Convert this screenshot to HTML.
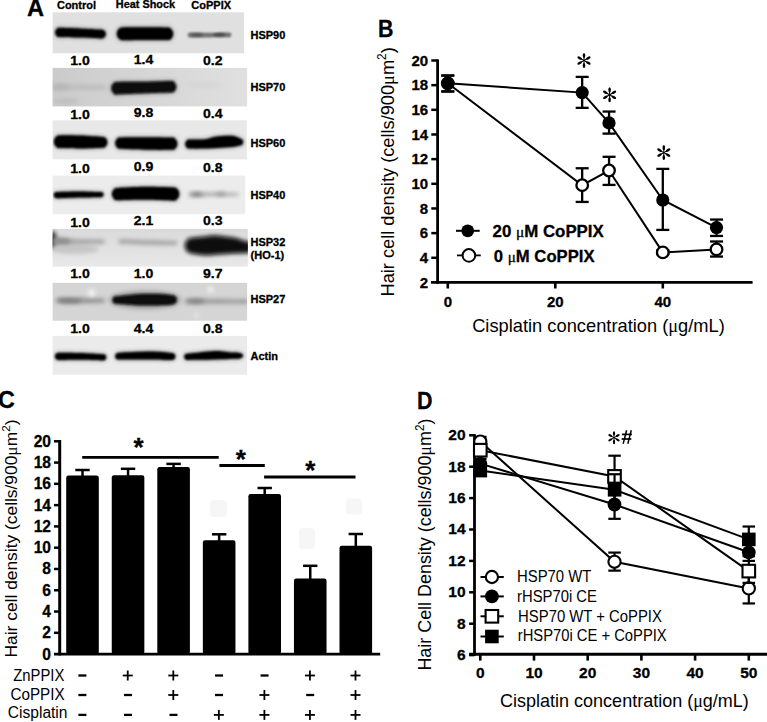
<!DOCTYPE html>
<html><head><meta charset="utf-8"><style>
html,body{margin:0;padding:0;background:#fff;}
svg{display:block;}
text[font-weight=bold]{stroke:#000;stroke-width:0.3px;}
</style></head><body>
<svg width="767" height="722" viewBox="0 0 767 722">
<rect width="767" height="722" fill="#fff"/>
<defs><filter id="bl" x="-20%" y="-100%" width="140%" height="300%"><feGaussianBlur stdDeviation="1.5"/></filter><filter id="bl3" x="-50%" y="-100%" width="200%" height="300%"><feGaussianBlur stdDeviation="3"/></filter></defs>
<text id="m_A" x="27.12" y="16.30" font-family="Liberation Sans" font-size="23.5" font-weight="bold" textLength="17.08" lengthAdjust="spacingAndGlyphs">A</text>
<text id="m_ctl" x="56.97" y="8.60" font-family="Liberation Sans" font-size="10.7" font-weight="bold" textLength="39.06" lengthAdjust="spacingAndGlyphs">Control</text>
<text id="m_hs" x="115.87" y="7.60" font-family="Liberation Sans" font-size="10.7" font-weight="bold" textLength="59.16" lengthAdjust="spacingAndGlyphs">Heat Shock</text>
<text id="m_cop" x="191.37" y="8.80" font-family="Liberation Sans" font-size="10.7" font-weight="bold" textLength="39.66" lengthAdjust="spacingAndGlyphs">CoPPIX</text>
<defs><filter id="bh" x="-30%" y="-150%" width="160%" height="400%"><feGaussianBlur stdDeviation="2.6"/></filter><filter id="bc" x="-30%" y="-150%" width="160%" height="400%"><feGaussianBlur stdDeviation="0.9"/></filter><filter id="bc2" x="-30%" y="-150%" width="160%" height="400%"><feGaussianBlur stdDeviation="1.3"/></filter><filter id="bc3" x="-30%" y="-150%" width="160%" height="400%"><feGaussianBlur stdDeviation="2"/></filter><filter id="bs" x="-100%" y="-100%" width="300%" height="300%"><feGaussianBlur stdDeviation="2"/></filter><linearGradient id="g70" x1="0" x2="1" y1="0" y2="0"><stop offset="0" stop-color="#cbcbcb"/><stop offset="0.45" stop-color="#d5d5d5"/><stop offset="1" stop-color="#e0e0e0"/></linearGradient><linearGradient id="g32" x1="0" x2="0" y1="0" y2="1"><stop offset="0" stop-color="#dadada"/><stop offset="1" stop-color="#e8e8e8"/></linearGradient></defs>
<clipPath id="cb0"><rect x="52.6" y="12.3" width="191.5" height="41.0"/></clipPath>
<rect x="52.60" y="12.30" width="191.50" height="41.00" fill="#e0e0e0" />
<g clip-path="url(#cb0)">
<path d="M55.20,32.40 C55.20,31.63 55.41,30.76 55.75,30.10 C56.10,29.44 56.67,28.80 57.27,28.42 C57.87,28.03 55.55,27.79 59.34,27.80 C63.13,27.81 73.22,28.20 80.00,28.50 C86.78,28.80 96.36,29.42 100.00,29.60 C103.64,29.78 101.20,29.50 101.84,29.60 C102.48,29.70 103.25,29.82 103.82,30.19 C104.39,30.56 104.94,31.16 105.27,31.80 C105.60,32.44 105.80,33.27 105.80,34.00 C105.80,34.73 105.60,35.56 105.27,36.20 C104.94,36.84 104.39,37.44 103.82,37.81 C103.25,38.18 102.48,38.30 101.84,38.40 C101.20,38.50 103.64,38.53 100.00,38.40 C96.36,38.27 86.78,37.83 80.00,37.60 C73.22,37.37 63.13,37.20 59.34,37.00 C55.55,36.80 57.87,36.77 57.27,36.38 C56.67,36.00 56.10,35.36 55.75,34.70 C55.41,34.04 55.20,33.17 55.20,32.40Z" fill="#050505" opacity="0.45" filter="url(#bh)"/>
<path d="M55.20,32.40 C55.20,31.63 55.41,30.76 55.75,30.10 C56.10,29.44 56.67,28.80 57.27,28.42 C57.87,28.03 55.55,27.79 59.34,27.80 C63.13,27.81 73.22,28.20 80.00,28.50 C86.78,28.80 96.36,29.42 100.00,29.60 C103.64,29.78 101.20,29.50 101.84,29.60 C102.48,29.70 103.25,29.82 103.82,30.19 C104.39,30.56 104.94,31.16 105.27,31.80 C105.60,32.44 105.80,33.27 105.80,34.00 C105.80,34.73 105.60,35.56 105.27,36.20 C104.94,36.84 104.39,37.44 103.82,37.81 C103.25,38.18 102.48,38.30 101.84,38.40 C101.20,38.50 103.64,38.53 100.00,38.40 C96.36,38.27 86.78,37.83 80.00,37.60 C73.22,37.37 63.13,37.20 59.34,37.00 C55.55,36.80 57.87,36.77 57.27,36.38 C56.67,36.00 56.10,35.36 55.75,34.70 C55.41,34.04 55.20,33.17 55.20,32.40Z" fill="#050505" filter="url(#bc)"/>
<path d="M116.80,33.79 C116.80,32.72 117.09,31.52 117.57,30.59 C118.05,29.67 118.85,28.78 119.68,28.25 C120.51,27.72 118.34,27.55 122.56,27.39 C126.78,27.24 137.49,27.27 145.00,27.30 C152.51,27.33 163.38,27.40 167.62,27.58 C171.85,27.77 169.60,27.90 170.41,28.41 C171.22,28.93 171.99,29.79 172.45,30.69 C172.92,31.58 173.20,32.76 173.20,33.79 C173.20,34.83 172.92,36.00 172.45,36.90 C171.99,37.79 171.22,38.65 170.41,39.17 C169.60,39.69 171.85,39.86 167.62,40.00 C163.38,40.14 152.51,39.97 145.00,40.00 C137.49,40.03 126.78,40.30 122.56,40.19 C118.34,40.08 120.51,39.86 119.68,39.33 C118.85,38.80 118.05,37.91 117.57,36.99 C117.09,36.07 116.80,34.86 116.80,33.79Z" fill="#000" opacity="0.45" filter="url(#bh)"/>
<path d="M116.80,33.79 C116.80,32.72 117.09,31.52 117.57,30.59 C118.05,29.67 118.85,28.78 119.68,28.25 C120.51,27.72 118.34,27.55 122.56,27.39 C126.78,27.24 137.49,27.27 145.00,27.30 C152.51,27.33 163.38,27.40 167.62,27.58 C171.85,27.77 169.60,27.90 170.41,28.41 C171.22,28.93 171.99,29.79 172.45,30.69 C172.92,31.58 173.20,32.76 173.20,33.79 C173.20,34.83 172.92,36.00 172.45,36.90 C171.99,37.79 171.22,38.65 170.41,39.17 C169.60,39.69 171.85,39.86 167.62,40.00 C163.38,40.14 152.51,39.97 145.00,40.00 C137.49,40.03 126.78,40.30 122.56,40.19 C118.34,40.08 120.51,39.86 119.68,39.33 C118.85,38.80 118.05,37.91 117.57,36.99 C117.09,36.07 116.80,34.86 116.80,33.79Z" fill="#000" filter="url(#bc)"/>
<path d="M187.60,35.00 C187.60,34.60 187.71,34.15 187.89,33.80 C188.07,33.45 188.37,33.12 188.68,32.92 C188.99,32.72 189.21,32.65 189.76,32.60 C190.31,32.55 188.63,32.57 192.00,32.60 C195.37,32.63 204.33,32.82 210.00,32.80 C215.67,32.78 222.79,32.55 226.00,32.50 C229.21,32.45 228.52,32.45 229.24,32.50 C229.96,32.55 230.01,32.62 230.32,32.82 C230.63,33.02 230.93,33.35 231.11,33.70 C231.29,34.05 231.40,34.50 231.40,34.90 C231.40,35.30 231.29,35.75 231.11,36.10 C230.93,36.45 230.63,36.78 230.32,36.98 C230.01,37.18 229.96,37.25 229.24,37.30 C228.52,37.35 229.21,37.28 226.00,37.30 C222.79,37.32 215.67,37.38 210.00,37.40 C204.33,37.42 195.37,37.40 192.00,37.40 C188.63,37.40 190.31,37.45 189.76,37.40 C189.21,37.35 188.99,37.28 188.68,37.08 C188.37,36.88 188.07,36.55 187.89,36.20 C187.71,35.85 187.60,35.40 187.60,35.00Z" fill="#707070" filter="url(#bc2)"/>
<ellipse cx="197" cy="35" rx="6" ry="1.6" fill="#555" filter="url(#bc2)"/><ellipse cx="219.5" cy="34.8" rx="6" ry="1.7" fill="#4a4a4a" filter="url(#bc2)"/>
</g>
<text x="250.50" y="39.10" font-family="Liberation Sans" font-size="11.0" font-weight="bold" text-anchor="start" >HSP90</text>
<clipPath id="cb1"><rect x="52.6" y="67.9" width="194.5" height="38.5"/></clipPath>
<rect x="52.60" y="67.90" width="194.50" height="38.50" fill="url(#g70)" />
<g clip-path="url(#cb1)">
<path d="M53.00,87.30 C53.00,86.80 53.14,86.23 53.36,85.80 C53.59,85.37 53.96,84.95 54.35,84.70 C54.74,84.45 54.76,84.37 55.70,84.30 C56.64,84.23 53.45,84.22 60.00,84.30 C66.55,84.38 87.71,84.72 95.00,84.80 C102.29,84.88 102.10,84.74 103.75,84.80 C105.40,84.86 104.55,84.93 104.88,85.13 C105.20,85.34 105.51,85.69 105.70,86.05 C105.89,86.41 106.00,86.88 106.00,87.30 C106.00,87.72 105.89,88.19 105.70,88.55 C105.51,88.91 105.20,89.26 104.88,89.47 C104.55,89.67 105.40,89.74 103.75,89.80 C102.10,89.86 102.29,89.72 95.00,89.80 C87.71,89.88 66.55,90.22 60.00,90.30 C53.45,90.38 56.64,90.37 55.70,90.30 C54.76,90.23 54.74,90.15 54.35,89.90 C53.96,89.65 53.59,89.23 53.36,88.80 C53.14,88.37 53.00,87.80 53.00,87.30Z" fill="#bdbdbd" filter="url(#bc3)"/>
<ellipse cx="60" cy="87" rx="8" ry="3" fill="#b5b5b5" filter="url(#bs)"/>
<ellipse cx="66" cy="101.5" rx="13" ry="3" fill="#bebebe" filter="url(#bs)"/>
<path d="M111.30,88.23 C111.30,87.19 111.58,86.01 112.05,85.11 C112.52,84.21 113.30,83.35 114.11,82.83 C114.92,82.31 111.78,82.17 116.92,81.99 C122.07,81.82 135.97,81.96 145.00,81.80 C154.03,81.64 166.34,81.03 171.12,81.03 C175.91,81.03 172.97,81.32 173.71,81.80 C174.46,82.28 175.18,83.07 175.61,83.90 C176.04,84.73 176.30,85.82 176.30,86.78 C176.30,87.73 176.04,88.82 175.61,89.65 C175.18,90.48 174.46,91.28 173.71,91.76 C172.97,92.23 175.91,92.27 171.12,92.53 C166.34,92.78 154.03,92.98 145.00,93.30 C135.97,93.62 122.07,94.41 116.92,94.46 C111.78,94.52 114.92,94.15 114.11,93.63 C113.30,93.11 112.52,92.24 112.05,91.34 C111.58,90.44 111.30,89.27 111.30,88.23Z" fill="#0c0c0c" opacity="0.45" filter="url(#bh)"/>
<path d="M111.30,88.23 C111.30,87.19 111.58,86.01 112.05,85.11 C112.52,84.21 113.30,83.35 114.11,82.83 C114.92,82.31 111.78,82.17 116.92,81.99 C122.07,81.82 135.97,81.96 145.00,81.80 C154.03,81.64 166.34,81.03 171.12,81.03 C175.91,81.03 172.97,81.32 173.71,81.80 C174.46,82.28 175.18,83.07 175.61,83.90 C176.04,84.73 176.30,85.82 176.30,86.78 C176.30,87.73 176.04,88.82 175.61,89.65 C175.18,90.48 174.46,91.28 173.71,91.76 C172.97,92.23 175.91,92.27 171.12,92.53 C166.34,92.78 154.03,92.98 145.00,93.30 C135.97,93.62 122.07,94.41 116.92,94.46 C111.78,94.52 114.92,94.15 114.11,93.63 C113.30,93.11 112.52,92.24 112.05,91.34 C111.58,90.44 111.30,89.27 111.30,88.23Z" fill="#0c0c0c" filter="url(#bc2)"/>
<ellipse cx="205" cy="85" rx="20" ry="3" fill="#d6d6d6" filter="url(#bs)"/>
</g>
<text x="250.50" y="91.40" font-family="Liberation Sans" font-size="11.0" font-weight="bold" text-anchor="start" >HSP70</text>
<clipPath id="cb2"><rect x="52.6" y="120.4" width="194.20000000000002" height="39.0"/></clipPath>
<rect x="52.60" y="120.40" width="194.20" height="39.00" fill="#e8e8e8" />
<g clip-path="url(#cb2)">
<path d="M53.90,141.72 C53.90,140.67 54.19,139.48 54.66,138.57 C55.13,137.66 55.92,136.78 56.73,136.26 C57.55,135.73 55.69,135.52 59.57,135.41 C63.45,135.30 72.82,135.35 80.00,135.60 C87.18,135.85 98.46,136.58 102.63,136.92 C106.80,137.26 104.33,137.19 105.02,137.64 C105.70,138.09 106.36,138.83 106.76,139.60 C107.16,140.38 107.40,141.39 107.40,142.28 C107.40,143.18 107.16,144.19 106.76,144.96 C106.36,145.74 105.70,146.48 105.02,146.93 C104.33,147.37 106.80,147.40 102.63,147.65 C98.46,147.89 87.18,148.34 80.00,148.40 C72.82,148.46 63.45,148.23 59.57,148.03 C55.69,147.83 57.55,147.71 56.73,147.18 C55.92,146.66 55.13,145.79 54.66,144.87 C54.19,143.96 53.90,142.77 53.90,141.72Z" fill="#000" opacity="0.45" filter="url(#bh)"/>
<path d="M53.90,141.72 C53.90,140.67 54.19,139.48 54.66,138.57 C55.13,137.66 55.92,136.78 56.73,136.26 C57.55,135.73 55.69,135.52 59.57,135.41 C63.45,135.30 72.82,135.35 80.00,135.60 C87.18,135.85 98.46,136.58 102.63,136.92 C106.80,137.26 104.33,137.19 105.02,137.64 C105.70,138.09 106.36,138.83 106.76,139.60 C107.16,140.38 107.40,141.39 107.40,142.28 C107.40,143.18 107.16,144.19 106.76,144.96 C106.36,145.74 105.70,146.48 105.02,146.93 C104.33,147.37 106.80,147.40 102.63,147.65 C98.46,147.89 87.18,148.34 80.00,148.40 C72.82,148.46 63.45,148.23 59.57,148.03 C55.69,147.83 57.55,147.71 56.73,147.18 C55.92,146.66 55.13,145.79 54.66,144.87 C54.19,143.96 53.90,142.77 53.90,141.72Z" fill="#000" filter="url(#bc)"/>
<path d="M115.20,143.12 C115.20,142.17 115.46,141.08 115.89,140.26 C116.31,139.43 117.02,138.64 117.77,138.16 C118.51,137.68 115.79,137.55 120.33,137.39 C124.87,137.23 136.40,137.17 145.00,137.20 C153.60,137.23 166.97,137.37 171.91,137.57 C176.85,137.77 173.86,137.88 174.66,138.39 C175.45,138.90 176.21,139.75 176.66,140.63 C177.12,141.51 177.40,142.67 177.40,143.69 C177.40,144.70 177.12,145.86 176.66,146.74 C176.21,147.63 175.45,148.47 174.66,148.98 C173.86,149.49 176.85,149.66 171.91,149.80 C166.97,149.94 153.60,149.96 145.00,149.80 C136.40,149.64 124.87,149.14 120.33,148.85 C115.79,148.57 118.51,148.56 117.77,148.08 C117.02,147.61 116.31,146.81 115.89,145.99 C115.46,145.16 115.20,144.08 115.20,143.12Z" fill="#000" opacity="0.45" filter="url(#bh)"/>
<path d="M115.20,143.12 C115.20,142.17 115.46,141.08 115.89,140.26 C116.31,139.43 117.02,138.64 117.77,138.16 C118.51,137.68 115.79,137.55 120.33,137.39 C124.87,137.23 136.40,137.17 145.00,137.20 C153.60,137.23 166.97,137.37 171.91,137.57 C176.85,137.77 173.86,137.88 174.66,138.39 C175.45,138.90 176.21,139.75 176.66,140.63 C177.12,141.51 177.40,142.67 177.40,143.69 C177.40,144.70 177.12,145.86 176.66,146.74 C176.21,147.63 175.45,148.47 174.66,148.98 C173.86,149.49 176.85,149.66 171.91,149.80 C166.97,149.94 153.60,149.96 145.00,149.80 C136.40,149.64 124.87,149.14 120.33,148.85 C115.79,148.57 118.51,148.56 117.77,148.08 C117.02,147.61 116.31,146.81 115.89,145.99 C115.46,145.16 115.20,144.08 115.20,143.12Z" fill="#000" filter="url(#bc)"/>
<path d="M185.20,144.10 C185.20,143.35 185.41,142.50 185.74,141.85 C186.08,141.20 186.64,140.58 187.22,140.20 C187.81,139.83 186.29,139.77 189.25,139.60 C192.21,139.43 200.38,139.72 205.00,139.20 C209.62,138.68 212.50,137.07 217.00,136.50 C221.50,135.93 228.16,135.47 232.00,135.80 C235.84,136.13 238.45,137.97 240.05,138.50 C241.65,139.03 241.17,138.68 241.62,138.97 C242.08,139.26 242.52,139.74 242.78,140.25 C243.04,140.76 243.20,141.42 243.20,142.00 C243.20,142.58 243.04,143.24 242.78,143.75 C242.52,144.26 242.08,144.74 241.62,145.03 C241.17,145.32 241.65,145.17 240.05,145.50 C238.45,145.83 235.84,146.58 232.00,147.00 C228.16,147.42 221.50,147.73 217.00,148.00 C212.50,148.27 209.62,148.50 205.00,148.60 C200.38,148.70 192.21,148.70 189.25,148.60 C186.29,148.50 187.81,148.37 187.22,148.00 C186.64,147.62 186.08,147.00 185.74,146.35 C185.41,145.70 185.20,144.85 185.20,144.10Z" fill="#000" opacity="0.45" filter="url(#bh)"/>
<path d="M185.20,144.10 C185.20,143.35 185.41,142.50 185.74,141.85 C186.08,141.20 186.64,140.58 187.22,140.20 C187.81,139.83 186.29,139.77 189.25,139.60 C192.21,139.43 200.38,139.72 205.00,139.20 C209.62,138.68 212.50,137.07 217.00,136.50 C221.50,135.93 228.16,135.47 232.00,135.80 C235.84,136.13 238.45,137.97 240.05,138.50 C241.65,139.03 241.17,138.68 241.62,138.97 C242.08,139.26 242.52,139.74 242.78,140.25 C243.04,140.76 243.20,141.42 243.20,142.00 C243.20,142.58 243.04,143.24 242.78,143.75 C242.52,144.26 242.08,144.74 241.62,145.03 C241.17,145.32 241.65,145.17 240.05,145.50 C238.45,145.83 235.84,146.58 232.00,147.00 C228.16,147.42 221.50,147.73 217.00,148.00 C212.50,148.27 209.62,148.50 205.00,148.60 C200.38,148.70 192.21,148.70 189.25,148.60 C186.29,148.50 187.81,148.37 187.22,148.00 C186.64,147.62 186.08,147.00 185.74,146.35 C185.41,145.70 185.20,144.85 185.20,144.10Z" fill="#000" filter="url(#bc)"/>
</g>
<text x="250.50" y="147.00" font-family="Liberation Sans" font-size="11.0" font-weight="bold" text-anchor="start" >HSP60</text>
<clipPath id="cb3"><rect x="52.6" y="175.6" width="192.6" height="38.599999999999994"/></clipPath>
<rect x="52.60" y="175.60" width="192.60" height="38.60" fill="#ececec" />
<g clip-path="url(#cb3)">
<path d="M53.70,195.05 C53.70,194.53 53.84,193.93 54.08,193.48 C54.32,193.02 54.71,192.58 55.12,192.32 C55.53,192.06 55.72,191.97 56.53,191.90 C57.35,191.83 56.09,191.97 60.00,191.90 C63.91,191.83 73.67,191.48 80.00,191.50 C86.33,191.52 94.46,191.92 98.00,192.00 C101.54,192.08 100.52,191.94 101.26,192.00 C102.00,192.06 102.09,192.13 102.43,192.35 C102.77,192.57 103.09,192.92 103.29,193.30 C103.48,193.68 103.60,194.17 103.60,194.60 C103.60,195.03 103.48,195.52 103.29,195.90 C103.09,196.28 102.77,196.63 102.43,196.85 C102.09,197.07 102.00,197.14 101.26,197.20 C100.52,197.26 101.54,197.13 98.00,197.20 C94.46,197.27 86.33,197.43 80.00,197.60 C73.67,197.77 63.91,198.10 60.00,198.20 C56.09,198.30 57.35,198.27 56.53,198.20 C55.72,198.13 55.53,198.04 55.12,197.78 C54.71,197.52 54.32,197.08 54.08,196.62 C53.84,196.17 53.70,195.58 53.70,195.05Z" fill="#050505" opacity="0.45" filter="url(#bh)"/>
<path d="M53.70,195.05 C53.70,194.53 53.84,193.93 54.08,193.48 C54.32,193.02 54.71,192.58 55.12,192.32 C55.53,192.06 55.72,191.97 56.53,191.90 C57.35,191.83 56.09,191.97 60.00,191.90 C63.91,191.83 73.67,191.48 80.00,191.50 C86.33,191.52 94.46,191.92 98.00,192.00 C101.54,192.08 100.52,191.94 101.26,192.00 C102.00,192.06 102.09,192.13 102.43,192.35 C102.77,192.57 103.09,192.92 103.29,193.30 C103.48,193.68 103.60,194.17 103.60,194.60 C103.60,195.03 103.48,195.52 103.29,195.90 C103.09,196.28 102.77,196.63 102.43,196.85 C102.09,197.07 102.00,197.14 101.26,197.20 C100.52,197.26 101.54,197.13 98.00,197.20 C94.46,197.27 86.33,197.43 80.00,197.60 C73.67,197.77 63.91,198.10 60.00,198.20 C56.09,198.30 57.35,198.27 56.53,198.20 C55.72,198.13 55.53,198.04 55.12,197.78 C54.71,197.52 54.32,197.08 54.08,196.62 C53.84,196.17 53.70,195.58 53.70,195.05Z" fill="#050505" filter="url(#bc)"/>
<path d="M111.90,194.06 C111.90,193.04 112.18,191.89 112.64,191.00 C113.09,190.12 113.85,189.27 114.65,188.76 C115.44,188.25 112.33,188.27 117.39,187.94 C122.45,187.62 135.67,186.88 145.00,186.80 C154.33,186.72 168.14,187.20 173.36,187.46 C178.58,187.72 175.47,187.80 176.33,188.35 C177.19,188.89 178.01,189.81 178.50,190.76 C179.00,191.71 179.30,192.96 179.30,194.06 C179.30,195.16 179.00,196.40 178.50,197.35 C178.01,198.31 177.19,199.22 176.33,199.77 C175.47,200.32 178.58,200.65 173.36,200.65 C168.14,200.66 154.33,199.88 145.00,199.80 C135.67,199.72 122.45,200.25 117.39,200.18 C112.33,200.11 115.44,199.87 114.65,199.36 C113.85,198.85 113.09,198.00 112.64,197.12 C112.18,196.24 111.90,195.08 111.90,194.06Z" fill="#000" opacity="0.45" filter="url(#bh)"/>
<path d="M111.90,194.06 C111.90,193.04 112.18,191.89 112.64,191.00 C113.09,190.12 113.85,189.27 114.65,188.76 C115.44,188.25 112.33,188.27 117.39,187.94 C122.45,187.62 135.67,186.88 145.00,186.80 C154.33,186.72 168.14,187.20 173.36,187.46 C178.58,187.72 175.47,187.80 176.33,188.35 C177.19,188.89 178.01,189.81 178.50,190.76 C179.00,191.71 179.30,192.96 179.30,194.06 C179.30,195.16 179.00,196.40 178.50,197.35 C178.01,198.31 177.19,199.22 176.33,199.77 C175.47,200.32 178.58,200.65 173.36,200.65 C168.14,200.66 154.33,199.88 145.00,199.80 C135.67,199.72 122.45,200.25 117.39,200.18 C112.33,200.11 115.44,199.87 114.65,199.36 C113.85,198.85 113.09,198.00 112.64,197.12 C112.18,196.24 111.90,195.08 111.90,194.06Z" fill="#000" filter="url(#bc)"/>
<path d="M188.50,194.40 C188.50,194.07 188.59,193.69 188.74,193.40 C188.89,193.11 189.14,192.83 189.40,192.67 C189.66,192.50 189.53,192.44 190.30,192.40 C191.07,192.36 189.88,192.37 194.00,192.40 C198.12,192.43 208.67,192.50 215.00,192.60 C221.33,192.70 228.26,192.93 232.00,193.00 C235.74,193.07 236.43,192.97 237.44,193.00 C238.45,193.03 237.89,193.07 238.07,193.19 C238.25,193.30 238.43,193.50 238.53,193.70 C238.64,193.90 238.70,194.17 238.70,194.40 C238.70,194.63 238.64,194.90 238.53,195.10 C238.43,195.30 238.25,195.50 238.07,195.61 C237.89,195.73 238.45,195.77 237.44,195.80 C236.43,195.83 235.74,195.77 232.00,195.80 C228.26,195.83 221.33,195.90 215.00,196.00 C208.67,196.10 198.12,196.33 194.00,196.40 C189.88,196.47 191.07,196.44 190.30,196.40 C189.53,196.36 189.66,196.30 189.40,196.13 C189.14,195.97 188.89,195.69 188.74,195.40 C188.59,195.11 188.50,194.73 188.50,194.40Z" fill="#a4a4a4" filter="url(#bc3)"/>
<ellipse cx="197" cy="194.4" rx="6" ry="1.8" fill="#7a7a7a" filter="url(#bs)"/><ellipse cx="221" cy="194.0" rx="5" ry="1.6" fill="#909090" filter="url(#bs)"/>
</g>
<text x="250.50" y="198.50" font-family="Liberation Sans" font-size="11.0" font-weight="bold" text-anchor="start" >HSP40</text>
<clipPath id="cb4"><rect x="52.6" y="228.9" width="195.20000000000002" height="37.70000000000002"/></clipPath>
<rect x="52.60" y="228.90" width="195.20" height="37.70" fill="url(#g32)" />
<g clip-path="url(#cb4)">
<ellipse cx="52" cy="240" rx="5" ry="9" fill="#333" filter="url(#bs)"/>
<ellipse cx="75" cy="249" rx="24" ry="5" fill="#c6c6c6" filter="url(#bs)"/>
<path d="M53.00,241.60 C53.00,241.13 53.13,240.60 53.34,240.20 C53.55,239.80 53.90,239.41 54.26,239.18 C54.62,238.94 54.90,238.86 55.52,238.80 C56.14,238.74 50.59,238.67 58.00,238.80 C65.41,238.93 92.48,239.47 100.00,239.60 C107.52,239.73 102.43,239.55 103.11,239.60 C103.79,239.65 103.78,239.71 104.05,239.88 C104.33,240.06 104.59,240.35 104.75,240.65 C104.90,240.95 105.00,241.35 105.00,241.70 C105.00,242.05 104.90,242.45 104.75,242.75 C104.59,243.05 104.33,243.34 104.05,243.52 C103.78,243.69 103.79,243.75 103.11,243.80 C102.43,243.85 107.52,243.70 100.00,243.80 C92.48,243.90 65.41,244.30 58.00,244.40 C50.59,244.50 56.14,244.46 55.52,244.40 C54.90,244.34 54.62,244.26 54.26,244.02 C53.90,243.79 53.55,243.40 53.34,243.00 C53.13,242.60 53.00,242.07 53.00,241.60Z" fill="#a2a2a2" filter="url(#bc3)"/>
<ellipse cx="62" cy="241" rx="9" ry="3" fill="#8a8a8a" filter="url(#bs)"/>
<path d="M118.40,241.50 C118.40,241.13 118.50,240.72 118.67,240.40 C118.83,240.08 119.10,239.78 119.39,239.59 C119.68,239.41 119.94,239.35 120.38,239.30 C120.81,239.25 117.06,239.13 122.00,239.30 C126.94,239.47 141.33,240.02 150.00,240.30 C158.67,240.58 169.73,240.88 174.00,241.00 C178.27,241.12 175.18,240.96 175.60,241.00 C176.02,241.04 176.24,241.10 176.50,241.27 C176.76,241.43 177.01,241.71 177.16,242.00 C177.31,242.29 177.40,242.67 177.40,243.00 C177.40,243.33 177.31,243.71 177.16,244.00 C177.01,244.29 176.76,244.57 176.50,244.73 C176.24,244.90 176.02,244.96 175.60,245.00 C175.18,245.04 178.27,245.05 174.00,245.00 C169.73,244.95 158.67,244.92 150.00,244.70 C141.33,244.48 126.94,243.87 122.00,243.70 C117.06,243.53 120.81,243.75 120.38,243.70 C119.94,243.65 119.68,243.59 119.39,243.41 C119.10,243.22 118.83,242.92 118.67,242.60 C118.50,242.28 118.40,241.87 118.40,241.50Z" fill="#a0a0a0" filter="url(#bc3)"/>
<path d="M185.30,245.62 C185.30,244.40 185.63,243.02 186.17,241.97 C186.71,240.92 187.60,239.91 188.54,239.30 C189.48,238.69 189.04,238.71 191.78,238.32 C194.52,237.94 201.13,237.39 205.00,237.00 C208.87,236.61 210.83,235.87 215.00,236.00 C219.17,236.13 226.67,237.40 230.00,237.80 C233.33,238.20 232.17,237.70 235.00,238.40 C237.83,239.10 244.63,241.40 247.00,242.00 C249.37,242.60 248.46,241.88 249.23,242.00 C250.00,242.12 250.93,242.27 251.61,242.71 C252.30,243.15 252.96,243.89 253.36,244.65 C253.76,245.41 254.00,246.42 254.00,247.30 C254.00,248.18 253.76,249.19 253.36,249.95 C252.96,250.71 252.30,251.45 251.61,251.89 C250.93,252.33 250.00,252.48 249.23,252.60 C248.46,252.72 249.37,252.53 247.00,252.60 C244.63,252.67 237.83,252.92 235.00,253.02 C232.17,253.12 233.33,253.01 230.00,253.20 C226.67,253.39 219.17,253.89 215.00,254.16 C210.83,254.43 208.87,255.01 205.00,254.80 C201.13,254.59 194.52,253.39 191.78,252.91 C189.04,252.43 189.48,252.54 188.54,251.93 C187.60,251.33 186.71,250.32 186.17,249.26 C185.63,248.21 185.30,246.83 185.30,245.62Z" fill="#101010" opacity="0.45" filter="url(#bh)"/>
<path d="M185.30,245.62 C185.30,244.40 185.63,243.02 186.17,241.97 C186.71,240.92 187.60,239.91 188.54,239.30 C189.48,238.69 189.04,238.71 191.78,238.32 C194.52,237.94 201.13,237.39 205.00,237.00 C208.87,236.61 210.83,235.87 215.00,236.00 C219.17,236.13 226.67,237.40 230.00,237.80 C233.33,238.20 232.17,237.70 235.00,238.40 C237.83,239.10 244.63,241.40 247.00,242.00 C249.37,242.60 248.46,241.88 249.23,242.00 C250.00,242.12 250.93,242.27 251.61,242.71 C252.30,243.15 252.96,243.89 253.36,244.65 C253.76,245.41 254.00,246.42 254.00,247.30 C254.00,248.18 253.76,249.19 253.36,249.95 C252.96,250.71 252.30,251.45 251.61,251.89 C250.93,252.33 250.00,252.48 249.23,252.60 C248.46,252.72 249.37,252.53 247.00,252.60 C244.63,252.67 237.83,252.92 235.00,253.02 C232.17,253.12 233.33,253.01 230.00,253.20 C226.67,253.39 219.17,253.89 215.00,254.16 C210.83,254.43 208.87,255.01 205.00,254.80 C201.13,254.59 194.52,253.39 191.78,252.91 C189.04,252.43 189.48,252.54 188.54,251.93 C187.60,251.33 186.71,250.32 186.17,249.26 C185.63,248.21 185.30,246.83 185.30,245.62Z" fill="#101010" filter="url(#bc3)"/>
</g>
<text x="250.50" y="245.60" font-family="Liberation Sans" font-size="11.0" font-weight="bold" text-anchor="start" >HSP32</text>
<clipPath id="cb5"><rect x="52.6" y="282.8" width="194.5" height="37.89999999999998"/></clipPath>
<rect x="52.60" y="282.80" width="194.50" height="37.90" fill="#d5d5d5" />
<g clip-path="url(#cb5)">
<path d="M55.90,300.50 C55.90,300.08 56.01,299.61 56.20,299.25 C56.39,298.89 56.70,298.54 57.02,298.33 C57.35,298.13 57.32,298.06 58.15,298.00 C58.98,297.94 58.36,297.95 62.00,298.00 C65.64,298.05 73.67,298.22 80.00,298.30 C86.33,298.38 96.18,298.47 100.00,298.50 C103.82,298.53 102.27,298.45 102.91,298.50 C103.55,298.55 103.58,298.61 103.85,298.78 C104.13,298.96 104.39,299.25 104.55,299.55 C104.70,299.85 104.80,300.25 104.80,300.60 C104.80,300.95 104.70,301.35 104.55,301.65 C104.39,301.95 104.13,302.24 103.85,302.42 C103.58,302.59 103.55,302.65 102.91,302.70 C102.27,302.75 103.82,302.63 100.00,302.70 C96.18,302.77 86.33,303.05 80.00,303.10 C73.67,303.15 65.64,303.02 62.00,303.00 C58.36,302.98 58.98,303.06 58.15,303.00 C57.32,302.94 57.35,302.87 57.02,302.67 C56.70,302.46 56.39,302.11 56.20,301.75 C56.01,301.39 55.90,300.92 55.90,300.50Z" fill="#8c8c8c" filter="url(#bc3)"/>
<ellipse cx="70" cy="300.6" rx="12" ry="2.2" fill="#7a7a7a" filter="url(#bs)"/>
<ellipse cx="145" cy="300" rx="36" ry="9" fill="#555" opacity="0.35" filter="url(#bh)"/>
<path d="M112.60,300.05 C112.60,299.43 112.77,298.72 113.05,298.18 C113.33,297.63 113.80,297.11 114.29,296.80 C114.77,296.49 115.36,296.38 115.97,296.30 C116.59,296.22 114.83,296.60 118.00,296.30 C121.17,296.00 129.67,294.88 135.00,294.50 C140.33,294.12 145.00,294.02 150.00,294.00 C155.00,293.98 161.22,294.18 165.00,294.40 C168.78,294.62 171.08,295.05 172.69,295.30 C174.31,295.55 174.12,295.53 174.70,295.90 C175.28,296.27 175.83,296.88 176.16,297.53 C176.50,298.17 176.70,299.01 176.70,299.75 C176.70,300.49 176.50,301.33 176.16,301.97 C175.83,302.62 175.28,303.23 174.70,303.60 C174.12,303.97 174.31,303.97 172.69,304.20 C171.08,304.43 168.78,304.82 165.00,305.00 C161.22,305.18 155.00,305.30 150.00,305.30 C145.00,305.30 140.33,305.25 135.00,305.00 C129.67,304.75 121.17,304.00 118.00,303.80 C114.83,303.60 116.59,303.88 115.97,303.80 C115.36,303.72 114.77,303.61 114.29,303.30 C113.80,302.99 113.33,302.47 113.05,301.93 C112.77,301.38 112.60,300.68 112.60,300.05Z" fill="#0c0c0c" opacity="0.45" filter="url(#bh)"/>
<path d="M112.60,300.05 C112.60,299.43 112.77,298.72 113.05,298.18 C113.33,297.63 113.80,297.11 114.29,296.80 C114.77,296.49 115.36,296.38 115.97,296.30 C116.59,296.22 114.83,296.60 118.00,296.30 C121.17,296.00 129.67,294.88 135.00,294.50 C140.33,294.12 145.00,294.02 150.00,294.00 C155.00,293.98 161.22,294.18 165.00,294.40 C168.78,294.62 171.08,295.05 172.69,295.30 C174.31,295.55 174.12,295.53 174.70,295.90 C175.28,296.27 175.83,296.88 176.16,297.53 C176.50,298.17 176.70,299.01 176.70,299.75 C176.70,300.49 176.50,301.33 176.16,301.97 C175.83,302.62 175.28,303.23 174.70,303.60 C174.12,303.97 174.31,303.97 172.69,304.20 C171.08,304.43 168.78,304.82 165.00,305.00 C161.22,305.18 155.00,305.30 150.00,305.30 C145.00,305.30 140.33,305.25 135.00,305.00 C129.67,304.75 121.17,304.00 118.00,303.80 C114.83,303.60 116.59,303.88 115.97,303.80 C115.36,303.72 114.77,303.61 114.29,303.30 C113.80,302.99 113.33,302.47 113.05,301.93 C112.77,301.38 112.60,300.68 112.60,300.05Z" fill="#0c0c0c" filter="url(#bc2)"/>
<path d="M184.50,301.30 C184.50,300.92 184.60,300.48 184.78,300.15 C184.95,299.82 185.24,299.50 185.54,299.31 C185.83,299.12 185.83,299.05 186.57,299.00 C187.31,298.95 185.26,299.00 190.00,299.00 C194.74,299.00 206.67,298.90 215.00,299.00 C223.33,299.10 234.62,299.50 240.00,299.60 C245.38,299.70 245.93,299.56 247.29,299.60 C248.65,299.64 247.90,299.70 248.15,299.85 C248.39,300.01 248.63,300.28 248.77,300.55 C248.91,300.82 249.00,301.18 249.00,301.50 C249.00,301.82 248.91,302.18 248.77,302.45 C248.63,302.72 248.39,302.99 248.15,303.15 C247.90,303.30 248.65,303.36 247.29,303.40 C245.93,303.44 245.38,303.37 240.00,303.40 C234.62,303.43 223.33,303.57 215.00,303.60 C206.67,303.63 194.74,303.60 190.00,303.60 C185.26,303.60 187.31,303.65 186.57,303.60 C185.83,303.55 185.83,303.48 185.54,303.29 C185.24,303.10 184.95,302.78 184.78,302.45 C184.60,302.12 184.50,301.68 184.50,301.30Z" fill="#969696" filter="url(#bc3)"/>
<ellipse cx="196" cy="301.3" rx="9" ry="2.2" fill="#808080" filter="url(#bs)"/>
<circle cx="91.5" cy="292.7" r="3.5" fill="#f6f6f6" filter="url(#bs)"/><circle cx="210.6" cy="289.4" r="3" fill="#f4f4f4" filter="url(#bs)"/><circle cx="196.3" cy="315.5" r="2.5" fill="#e6e6e6" filter="url(#bs)"/>
</g>
<text x="250.50" y="303.20" font-family="Liberation Sans" font-size="11.0" font-weight="bold" text-anchor="start" >HSP27</text>
<clipPath id="cb6"><rect x="52.6" y="335.9" width="194.5" height="38.900000000000034"/></clipPath>
<rect x="52.60" y="335.90" width="194.50" height="38.90" fill="#ebebeb" />
<g clip-path="url(#cb6)">
<path d="M55.00,356.40 C55.00,355.80 55.16,355.12 55.43,354.60 C55.70,354.08 56.15,353.58 56.62,353.28 C57.09,352.98 57.68,352.88 58.24,352.80 C58.80,352.72 56.37,352.75 60.00,352.80 C63.63,352.85 73.00,352.87 80.00,353.10 C87.00,353.33 98.08,354.02 102.00,354.20 C105.92,354.38 103.03,354.13 103.51,354.20 C103.99,354.27 104.50,354.36 104.91,354.62 C105.31,354.87 105.69,355.30 105.93,355.75 C106.16,356.20 106.30,356.78 106.30,357.30 C106.30,357.82 106.16,358.40 105.93,358.85 C105.69,359.30 105.31,359.73 104.91,359.98 C104.50,360.24 103.99,360.33 103.51,360.40 C103.03,360.47 105.92,360.50 102.00,360.40 C98.08,360.30 87.00,359.87 80.00,359.80 C73.00,359.73 63.63,359.97 60.00,360.00 C56.37,360.03 58.80,360.08 58.24,360.00 C57.68,359.92 57.09,359.82 56.62,359.52 C56.15,359.22 55.70,358.72 55.43,358.20 C55.16,357.68 55.00,357.00 55.00,356.40Z" fill="#000" opacity="0.45" filter="url(#bh)"/>
<path d="M55.00,356.40 C55.00,355.80 55.16,355.12 55.43,354.60 C55.70,354.08 56.15,353.58 56.62,353.28 C57.09,352.98 57.68,352.88 58.24,352.80 C58.80,352.72 56.37,352.75 60.00,352.80 C63.63,352.85 73.00,352.87 80.00,353.10 C87.00,353.33 98.08,354.02 102.00,354.20 C105.92,354.38 103.03,354.13 103.51,354.20 C103.99,354.27 104.50,354.36 104.91,354.62 C105.31,354.87 105.69,355.30 105.93,355.75 C106.16,356.20 106.30,356.78 106.30,357.30 C106.30,357.82 106.16,358.40 105.93,358.85 C105.69,359.30 105.31,359.73 104.91,359.98 C104.50,360.24 103.99,360.33 103.51,360.40 C103.03,360.47 105.92,360.50 102.00,360.40 C98.08,360.30 87.00,359.87 80.00,359.80 C73.00,359.73 63.63,359.97 60.00,360.00 C56.37,360.03 58.80,360.08 58.24,360.00 C57.68,359.92 57.09,359.82 56.62,359.52 C56.15,359.22 55.70,358.72 55.43,358.20 C55.16,357.68 55.00,357.00 55.00,356.40Z" fill="#000" filter="url(#bc)"/>
<path d="M115.20,356.15 C115.20,355.57 115.36,354.92 115.62,354.42 C115.87,353.93 116.30,353.45 116.75,353.16 C117.20,352.87 117.76,352.78 118.31,352.70 C118.85,352.62 114.72,352.88 120.00,352.70 C125.28,352.52 141.50,351.57 150.00,351.60 C158.50,351.63 167.30,352.68 171.00,352.90 C174.70,353.12 171.74,352.82 172.20,352.90 C172.67,352.98 173.34,353.08 173.80,353.38 C174.26,353.67 174.71,354.16 174.97,354.68 C175.24,355.19 175.40,355.86 175.40,356.45 C175.40,357.04 175.24,357.71 174.97,358.22 C174.71,358.74 174.26,359.23 173.80,359.52 C173.34,359.82 172.67,359.92 172.20,360.00 C171.74,360.08 174.70,360.10 171.00,360.00 C167.30,359.90 158.50,359.47 150.00,359.40 C141.50,359.33 125.28,359.57 120.00,359.60 C114.72,359.63 118.85,359.68 118.31,359.60 C117.76,359.52 117.20,359.43 116.75,359.14 C116.30,358.85 115.87,358.37 115.62,357.88 C115.36,357.38 115.20,356.72 115.20,356.15Z" fill="#000" opacity="0.45" filter="url(#bh)"/>
<path d="M115.20,356.15 C115.20,355.57 115.36,354.92 115.62,354.42 C115.87,353.93 116.30,353.45 116.75,353.16 C117.20,352.87 117.76,352.78 118.31,352.70 C118.85,352.62 114.72,352.88 120.00,352.70 C125.28,352.52 141.50,351.57 150.00,351.60 C158.50,351.63 167.30,352.68 171.00,352.90 C174.70,353.12 171.74,352.82 172.20,352.90 C172.67,352.98 173.34,353.08 173.80,353.38 C174.26,353.67 174.71,354.16 174.97,354.68 C175.24,355.19 175.40,355.86 175.40,356.45 C175.40,357.04 175.24,357.71 174.97,358.22 C174.71,358.74 174.26,359.23 173.80,359.52 C173.34,359.82 172.67,359.92 172.20,360.00 C171.74,360.08 174.70,360.10 171.00,360.00 C167.30,359.90 158.50,359.47 150.00,359.40 C141.50,359.33 125.28,359.57 120.00,359.60 C114.72,359.63 118.85,359.68 118.31,359.60 C117.76,359.52 117.20,359.43 116.75,359.14 C116.30,358.85 115.87,358.37 115.62,357.88 C115.36,357.38 115.20,356.72 115.20,356.15Z" fill="#000" filter="url(#bc)"/>
<path d="M184.20,356.75 C184.20,356.21 184.35,355.59 184.59,355.12 C184.84,354.66 185.24,354.21 185.66,353.94 C186.08,353.66 186.57,353.57 187.12,353.50 C187.68,353.43 184.35,353.93 189.00,353.50 C193.65,353.07 207.83,351.07 215.00,350.90 C222.17,350.73 228.46,352.23 232.00,352.50 C235.54,352.77 234.98,352.43 236.27,352.50 C237.56,352.57 238.73,352.66 239.73,352.92 C240.74,353.18 241.69,353.62 242.27,354.07 C242.85,354.53 243.20,355.12 243.20,355.65 C243.20,356.17 242.85,356.77 242.27,357.22 C241.69,357.68 240.74,358.12 239.73,358.38 C238.73,358.64 237.56,358.73 236.27,358.80 C234.98,358.87 235.54,358.67 232.00,358.80 C228.46,358.93 222.17,359.40 215.00,359.60 C207.83,359.80 193.65,359.93 189.00,360.00 C184.35,360.07 187.68,360.07 187.12,360.00 C186.57,359.93 186.08,359.84 185.66,359.56 C185.24,359.29 184.84,358.84 184.59,358.38 C184.35,357.91 184.20,357.29 184.20,356.75Z" fill="#000" opacity="0.45" filter="url(#bh)"/>
<path d="M184.20,356.75 C184.20,356.21 184.35,355.59 184.59,355.12 C184.84,354.66 185.24,354.21 185.66,353.94 C186.08,353.66 186.57,353.57 187.12,353.50 C187.68,353.43 184.35,353.93 189.00,353.50 C193.65,353.07 207.83,351.07 215.00,350.90 C222.17,350.73 228.46,352.23 232.00,352.50 C235.54,352.77 234.98,352.43 236.27,352.50 C237.56,352.57 238.73,352.66 239.73,352.92 C240.74,353.18 241.69,353.62 242.27,354.07 C242.85,354.53 243.20,355.12 243.20,355.65 C243.20,356.17 242.85,356.77 242.27,357.22 C241.69,357.68 240.74,358.12 239.73,358.38 C238.73,358.64 237.56,358.73 236.27,358.80 C234.98,358.87 235.54,358.67 232.00,358.80 C228.46,358.93 222.17,359.40 215.00,359.60 C207.83,359.80 193.65,359.93 189.00,360.00 C184.35,360.07 187.68,360.07 187.12,360.00 C186.57,359.93 186.08,359.84 185.66,359.56 C185.24,359.29 184.84,358.84 184.59,358.38 C184.35,357.91 184.20,357.29 184.20,356.75Z" fill="#000" filter="url(#bc)"/>
</g>
<text x="250.50" y="359.80" font-family="Liberation Sans" font-size="11.0" font-weight="bold" text-anchor="start" >Actin</text>
<text x="250.60" y="258.70" font-family="Liberation Sans" font-size="11.0" font-weight="bold" text-anchor="start" >(HO-1)</text>
<text x="80.00" y="64.90" font-family="Liberation Sans" font-size="13.3" font-weight="bold" text-anchor="middle" textLength="19.6" lengthAdjust="spacingAndGlyphs">1.0</text>
<text x="143.50" y="64.20" font-family="Liberation Sans" font-size="13.3" font-weight="bold" text-anchor="middle" textLength="19.6" lengthAdjust="spacingAndGlyphs">1.4</text>
<text x="212.80" y="64.90" font-family="Liberation Sans" font-size="13.3" font-weight="bold" text-anchor="middle" textLength="19.6" lengthAdjust="spacingAndGlyphs">0.2</text>
<text x="80.00" y="119.10" font-family="Liberation Sans" font-size="13.3" font-weight="bold" text-anchor="middle" textLength="19.6" lengthAdjust="spacingAndGlyphs">1.0</text>
<text x="143.50" y="117.40" font-family="Liberation Sans" font-size="13.3" font-weight="bold" text-anchor="middle" textLength="19.6" lengthAdjust="spacingAndGlyphs">9.8</text>
<text x="212.80" y="117.90" font-family="Liberation Sans" font-size="13.3" font-weight="bold" text-anchor="middle" textLength="19.6" lengthAdjust="spacingAndGlyphs">0.4</text>
<text x="80.00" y="172.90" font-family="Liberation Sans" font-size="13.3" font-weight="bold" text-anchor="middle" textLength="19.6" lengthAdjust="spacingAndGlyphs">1.0</text>
<text x="143.50" y="171.00" font-family="Liberation Sans" font-size="13.3" font-weight="bold" text-anchor="middle" textLength="19.6" lengthAdjust="spacingAndGlyphs">0.9</text>
<text x="212.80" y="171.80" font-family="Liberation Sans" font-size="13.3" font-weight="bold" text-anchor="middle" textLength="19.6" lengthAdjust="spacingAndGlyphs">0.8</text>
<text x="80.00" y="226.60" font-family="Liberation Sans" font-size="13.3" font-weight="bold" text-anchor="middle" textLength="19.6" lengthAdjust="spacingAndGlyphs">1.0</text>
<text x="143.50" y="225.40" font-family="Liberation Sans" font-size="13.3" font-weight="bold" text-anchor="middle" textLength="19.6" lengthAdjust="spacingAndGlyphs">2.1</text>
<text x="212.80" y="225.40" font-family="Liberation Sans" font-size="13.3" font-weight="bold" text-anchor="middle" textLength="19.6" lengthAdjust="spacingAndGlyphs">0.3</text>
<text x="80.00" y="278.40" font-family="Liberation Sans" font-size="13.3" font-weight="bold" text-anchor="middle" textLength="19.6" lengthAdjust="spacingAndGlyphs">1.0</text>
<text x="143.50" y="278.40" font-family="Liberation Sans" font-size="13.3" font-weight="bold" text-anchor="middle" textLength="19.6" lengthAdjust="spacingAndGlyphs">1.0</text>
<text x="212.80" y="278.40" font-family="Liberation Sans" font-size="13.3" font-weight="bold" text-anchor="middle" textLength="19.6" lengthAdjust="spacingAndGlyphs">9.7</text>
<text x="80.00" y="332.60" font-family="Liberation Sans" font-size="13.3" font-weight="bold" text-anchor="middle" textLength="19.6" lengthAdjust="spacingAndGlyphs">1.0</text>
<text x="143.50" y="332.60" font-family="Liberation Sans" font-size="13.3" font-weight="bold" text-anchor="middle" textLength="19.6" lengthAdjust="spacingAndGlyphs">4.4</text>
<text x="212.80" y="332.60" font-family="Liberation Sans" font-size="13.3" font-weight="bold" text-anchor="middle" textLength="19.6" lengthAdjust="spacingAndGlyphs">0.8</text>
<text id="m_B" x="377.93" y="36.60" font-family="Liberation Sans" font-size="23.5" font-weight="bold" textLength="15.48" lengthAdjust="spacingAndGlyphs">B</text>
<line x1="437.60" y1="59.40" x2="437.60" y2="283.80" stroke="#000" stroke-width="2.8" stroke-linecap="butt"/>
<line x1="431.00" y1="282.40" x2="752.60" y2="282.40" stroke="#000" stroke-width="2.8" stroke-linecap="butt"/>
<line x1="431.30" y1="257.78" x2="437.60" y2="257.78" stroke="#000" stroke-width="2.5" stroke-linecap="butt"/>
<line x1="431.30" y1="233.12" x2="437.60" y2="233.12" stroke="#000" stroke-width="2.5" stroke-linecap="butt"/>
<line x1="431.30" y1="208.46" x2="437.60" y2="208.46" stroke="#000" stroke-width="2.5" stroke-linecap="butt"/>
<line x1="431.30" y1="183.80" x2="437.60" y2="183.80" stroke="#000" stroke-width="2.5" stroke-linecap="butt"/>
<line x1="431.30" y1="159.14" x2="437.60" y2="159.14" stroke="#000" stroke-width="2.5" stroke-linecap="butt"/>
<line x1="431.30" y1="134.48" x2="437.60" y2="134.48" stroke="#000" stroke-width="2.5" stroke-linecap="butt"/>
<line x1="431.30" y1="109.82" x2="437.60" y2="109.82" stroke="#000" stroke-width="2.5" stroke-linecap="butt"/>
<line x1="431.30" y1="85.16" x2="437.60" y2="85.16" stroke="#000" stroke-width="2.5" stroke-linecap="butt"/>
<line x1="431.30" y1="60.50" x2="437.60" y2="60.50" stroke="#000" stroke-width="2.5" stroke-linecap="butt"/>
<text x="428.20" y="287.74" font-family="Liberation Sans" font-size="15" font-weight="bold" text-anchor="end" >2</text>
<text x="428.20" y="263.08" font-family="Liberation Sans" font-size="15" font-weight="bold" text-anchor="end" >4</text>
<text x="428.20" y="238.42" font-family="Liberation Sans" font-size="15" font-weight="bold" text-anchor="end" >6</text>
<text x="428.20" y="213.76" font-family="Liberation Sans" font-size="15" font-weight="bold" text-anchor="end" >8</text>
<text x="428.20" y="189.10" font-family="Liberation Sans" font-size="15" font-weight="bold" text-anchor="end" >10</text>
<text x="428.20" y="164.44" font-family="Liberation Sans" font-size="15" font-weight="bold" text-anchor="end" >12</text>
<text x="428.20" y="139.78" font-family="Liberation Sans" font-size="15" font-weight="bold" text-anchor="end" >14</text>
<text x="428.20" y="115.12" font-family="Liberation Sans" font-size="15" font-weight="bold" text-anchor="end" >16</text>
<text x="428.20" y="90.46" font-family="Liberation Sans" font-size="15" font-weight="bold" text-anchor="end" >18</text>
<text x="428.20" y="65.80" font-family="Liberation Sans" font-size="15" font-weight="bold" text-anchor="end" >20</text>
<line x1="447.80" y1="282.40" x2="447.80" y2="288.50" stroke="#000" stroke-width="2.6" stroke-linecap="butt"/>
<text x="447.80" y="306.80" font-family="Liberation Sans" font-size="15" font-weight="bold" text-anchor="middle" >0</text>
<line x1="555.30" y1="282.40" x2="555.30" y2="288.50" stroke="#000" stroke-width="2.6" stroke-linecap="butt"/>
<text x="555.30" y="306.80" font-family="Liberation Sans" font-size="15" font-weight="bold" text-anchor="middle" >20</text>
<line x1="662.80" y1="282.40" x2="662.80" y2="288.50" stroke="#000" stroke-width="2.6" stroke-linecap="butt"/>
<text x="662.80" y="306.80" font-family="Liberation Sans" font-size="15" font-weight="bold" text-anchor="middle" >40</text>
<text id="m_Bx" x="472.18" y="332.00" font-family="Liberation Sans" font-size="18.5" font-weight="normal" textLength="252.68" lengthAdjust="spacingAndGlyphs">Cisplatin concentration (<tspan font-family="Liberation Serif">μ</tspan>g/mL)</text>
<text id="m_By" transform="translate(393.90,296.53) rotate(-90)" font-family="Liberation Sans" font-size="18.5" font-weight="normal" textLength="249.28" lengthAdjust="spacingAndGlyphs">Hair cell density (cells/900<tspan font-family="Liberation Serif">μ</tspan>m<tspan font-size="12" dy="-7.5">2</tspan><tspan dy="7.5">)</tspan></text>
<polyline fill="none" stroke="#000" stroke-width="2" points="447.8,83.3 582.2,185.2 609.0,170.5 662.8,252.4 716.5,249.4"/>
<polyline fill="none" stroke="#000" stroke-width="2" points="447.8,83.3 582.2,92.6 609.0,122.9 662.8,200.0 716.5,227.6"/>
<line x1="447.80" y1="75.54" x2="447.80" y2="91.45" stroke="#000" stroke-width="2.3" stroke-linecap="butt"/>
<line x1="441.30" y1="75.54" x2="454.30" y2="75.54" stroke="#000" stroke-width="2.3" stroke-linecap="butt"/>
<line x1="441.30" y1="91.45" x2="454.30" y2="91.45" stroke="#000" stroke-width="2.3" stroke-linecap="butt"/>
<line x1="582.17" y1="168.26" x2="582.17" y2="201.93" stroke="#000" stroke-width="2.3" stroke-linecap="butt"/>
<line x1="575.67" y1="168.26" x2="588.67" y2="168.26" stroke="#000" stroke-width="2.3" stroke-linecap="butt"/>
<line x1="575.67" y1="201.93" x2="588.67" y2="201.93" stroke="#000" stroke-width="2.3" stroke-linecap="butt"/>
<line x1="609.05" y1="156.80" x2="609.05" y2="184.91" stroke="#000" stroke-width="2.3" stroke-linecap="butt"/>
<line x1="602.55" y1="156.80" x2="615.55" y2="156.80" stroke="#000" stroke-width="2.3" stroke-linecap="butt"/>
<line x1="602.55" y1="184.91" x2="615.55" y2="184.91" stroke="#000" stroke-width="2.3" stroke-linecap="butt"/>
<line x1="662.80" y1="250.38" x2="662.80" y2="254.08" stroke="#000" stroke-width="2.3" stroke-linecap="butt"/>
<line x1="656.30" y1="250.38" x2="669.30" y2="250.38" stroke="#000" stroke-width="2.3" stroke-linecap="butt"/>
<line x1="656.30" y1="254.08" x2="669.30" y2="254.08" stroke="#000" stroke-width="2.3" stroke-linecap="butt"/>
<line x1="716.55" y1="241.50" x2="716.55" y2="256.55" stroke="#000" stroke-width="2.3" stroke-linecap="butt"/>
<line x1="710.05" y1="241.50" x2="723.05" y2="241.50" stroke="#000" stroke-width="2.3" stroke-linecap="butt"/>
<line x1="710.05" y1="256.55" x2="723.05" y2="256.55" stroke="#000" stroke-width="2.3" stroke-linecap="butt"/>
<line x1="447.80" y1="75.54" x2="447.80" y2="91.45" stroke="#000" stroke-width="2.3" stroke-linecap="butt"/>
<line x1="441.30" y1="75.54" x2="454.30" y2="75.54" stroke="#000" stroke-width="2.3" stroke-linecap="butt"/>
<line x1="441.30" y1="91.45" x2="454.30" y2="91.45" stroke="#000" stroke-width="2.3" stroke-linecap="butt"/>
<line x1="582.17" y1="76.90" x2="582.17" y2="107.85" stroke="#000" stroke-width="2.3" stroke-linecap="butt"/>
<line x1="575.67" y1="76.90" x2="588.67" y2="76.90" stroke="#000" stroke-width="2.3" stroke-linecap="butt"/>
<line x1="575.67" y1="107.85" x2="588.67" y2="107.85" stroke="#000" stroke-width="2.3" stroke-linecap="butt"/>
<line x1="609.05" y1="111.55" x2="609.05" y2="133.62" stroke="#000" stroke-width="2.3" stroke-linecap="butt"/>
<line x1="602.55" y1="111.55" x2="615.55" y2="111.55" stroke="#000" stroke-width="2.3" stroke-linecap="butt"/>
<line x1="602.55" y1="133.62" x2="615.55" y2="133.62" stroke="#000" stroke-width="2.3" stroke-linecap="butt"/>
<line x1="662.80" y1="168.88" x2="662.80" y2="229.91" stroke="#000" stroke-width="2.3" stroke-linecap="butt"/>
<line x1="656.30" y1="168.88" x2="669.30" y2="168.88" stroke="#000" stroke-width="2.3" stroke-linecap="butt"/>
<line x1="656.30" y1="229.91" x2="669.30" y2="229.91" stroke="#000" stroke-width="2.3" stroke-linecap="butt"/>
<line x1="716.55" y1="219.56" x2="716.55" y2="235.96" stroke="#000" stroke-width="2.3" stroke-linecap="butt"/>
<line x1="710.05" y1="219.56" x2="723.05" y2="219.56" stroke="#000" stroke-width="2.3" stroke-linecap="butt"/>
<line x1="710.05" y1="235.96" x2="723.05" y2="235.96" stroke="#000" stroke-width="2.3" stroke-linecap="butt"/>
<circle cx="447.8" cy="83.3" r="5.8" fill="#fff" stroke="#000" stroke-width="2.3"/>
<circle cx="582.2" cy="185.2" r="5.8" fill="#fff" stroke="#000" stroke-width="2.3"/>
<circle cx="609.0" cy="170.5" r="5.8" fill="#fff" stroke="#000" stroke-width="2.3"/>
<circle cx="662.8" cy="252.4" r="5.8" fill="#fff" stroke="#000" stroke-width="2.3"/>
<circle cx="716.5" cy="249.4" r="5.8" fill="#fff" stroke="#000" stroke-width="2.3"/>
<circle cx="447.8" cy="83.3" r="6.6" fill="#000"/>
<circle cx="582.2" cy="92.6" r="6.6" fill="#000"/>
<circle cx="609.0" cy="122.9" r="6.6" fill="#000"/>
<circle cx="662.8" cy="200.0" r="6.6" fill="#000"/>
<circle cx="716.5" cy="227.6" r="6.6" fill="#000"/>
<g><g transform="translate(584.00,60.50) rotate(-90)"><line x1="0" y1="0" x2="3.75" y2="0" stroke="#000" stroke-width="1.05"/><ellipse cx="4.95" cy="0" rx="2.55" ry="1.28" fill="#000"/></g><g transform="translate(584.00,60.50) rotate(-150)"><line x1="0" y1="0" x2="3.75" y2="0" stroke="#000" stroke-width="1.05"/><ellipse cx="4.95" cy="0" rx="2.55" ry="1.28" fill="#000"/></g><g transform="translate(584.00,60.50) rotate(-210)"><line x1="0" y1="0" x2="3.75" y2="0" stroke="#000" stroke-width="1.05"/><ellipse cx="4.95" cy="0" rx="2.55" ry="1.28" fill="#000"/></g><g transform="translate(584.00,60.50) rotate(-270)"><line x1="0" y1="0" x2="3.75" y2="0" stroke="#000" stroke-width="1.05"/><ellipse cx="4.95" cy="0" rx="2.55" ry="1.28" fill="#000"/></g><g transform="translate(584.00,60.50) rotate(-330)"><line x1="0" y1="0" x2="3.75" y2="0" stroke="#000" stroke-width="1.05"/><ellipse cx="4.95" cy="0" rx="2.55" ry="1.28" fill="#000"/></g><g transform="translate(584.00,60.50) rotate(-390)"><line x1="0" y1="0" x2="3.75" y2="0" stroke="#000" stroke-width="1.05"/><ellipse cx="4.95" cy="0" rx="2.55" ry="1.28" fill="#000"/></g></g>
<g><g transform="translate(609.60,94.80) rotate(-90)"><line x1="0" y1="0" x2="3.75" y2="0" stroke="#000" stroke-width="1.05"/><ellipse cx="4.95" cy="0" rx="2.55" ry="1.28" fill="#000"/></g><g transform="translate(609.60,94.80) rotate(-150)"><line x1="0" y1="0" x2="3.75" y2="0" stroke="#000" stroke-width="1.05"/><ellipse cx="4.95" cy="0" rx="2.55" ry="1.28" fill="#000"/></g><g transform="translate(609.60,94.80) rotate(-210)"><line x1="0" y1="0" x2="3.75" y2="0" stroke="#000" stroke-width="1.05"/><ellipse cx="4.95" cy="0" rx="2.55" ry="1.28" fill="#000"/></g><g transform="translate(609.60,94.80) rotate(-270)"><line x1="0" y1="0" x2="3.75" y2="0" stroke="#000" stroke-width="1.05"/><ellipse cx="4.95" cy="0" rx="2.55" ry="1.28" fill="#000"/></g><g transform="translate(609.60,94.80) rotate(-330)"><line x1="0" y1="0" x2="3.75" y2="0" stroke="#000" stroke-width="1.05"/><ellipse cx="4.95" cy="0" rx="2.55" ry="1.28" fill="#000"/></g><g transform="translate(609.60,94.80) rotate(-390)"><line x1="0" y1="0" x2="3.75" y2="0" stroke="#000" stroke-width="1.05"/><ellipse cx="4.95" cy="0" rx="2.55" ry="1.28" fill="#000"/></g></g>
<g><g transform="translate(663.80,152.60) rotate(-90)"><line x1="0" y1="0" x2="3.75" y2="0" stroke="#000" stroke-width="1.05"/><ellipse cx="4.95" cy="0" rx="2.55" ry="1.28" fill="#000"/></g><g transform="translate(663.80,152.60) rotate(-150)"><line x1="0" y1="0" x2="3.75" y2="0" stroke="#000" stroke-width="1.05"/><ellipse cx="4.95" cy="0" rx="2.55" ry="1.28" fill="#000"/></g><g transform="translate(663.80,152.60) rotate(-210)"><line x1="0" y1="0" x2="3.75" y2="0" stroke="#000" stroke-width="1.05"/><ellipse cx="4.95" cy="0" rx="2.55" ry="1.28" fill="#000"/></g><g transform="translate(663.80,152.60) rotate(-270)"><line x1="0" y1="0" x2="3.75" y2="0" stroke="#000" stroke-width="1.05"/><ellipse cx="4.95" cy="0" rx="2.55" ry="1.28" fill="#000"/></g><g transform="translate(663.80,152.60) rotate(-330)"><line x1="0" y1="0" x2="3.75" y2="0" stroke="#000" stroke-width="1.05"/><ellipse cx="4.95" cy="0" rx="2.55" ry="1.28" fill="#000"/></g><g transform="translate(663.80,152.60) rotate(-390)"><line x1="0" y1="0" x2="3.75" y2="0" stroke="#000" stroke-width="1.05"/><ellipse cx="4.95" cy="0" rx="2.55" ry="1.28" fill="#000"/></g></g>
<line x1="456.00" y1="230.80" x2="479.70" y2="230.80" stroke="#000" stroke-width="2" stroke-linecap="butt"/>
<circle cx="467.7" cy="230.8" r="6.4" fill="#000"/>
<line x1="457.00" y1="255.40" x2="480.80" y2="255.40" stroke="#000" stroke-width="1.8" stroke-linecap="butt"/>
<circle cx="468.9" cy="255.4" r="6.3" fill="#fff" stroke="#000" stroke-width="2.0"/>
<text id="m_Bl1" x="492.57" y="236.80" font-family="Liberation Sans" font-size="16.5" font-weight="bold" textLength="111.22" lengthAdjust="spacingAndGlyphs">20 <tspan font-family="Liberation Serif" font-weight="normal" font-size="15">μ</tspan>M CoPPIX</text>
<text id="m_Bl2" x="493.88" y="261.50" font-family="Liberation Sans" font-size="16.5" font-weight="bold" textLength="100.62" lengthAdjust="spacingAndGlyphs">0 <tspan font-family="Liberation Serif" font-weight="normal" font-size="15">μ</tspan>M CoPPIX</text>
<text id="m_C" x="-1.88" y="408.30" font-family="Liberation Sans" font-size="23.5" font-weight="bold" textLength="16.88" lengthAdjust="spacingAndGlyphs">C</text>
<line x1="59.70" y1="440.00" x2="59.70" y2="655.50" stroke="#000" stroke-width="3.0" stroke-linecap="butt"/>
<line x1="54.00" y1="654.10" x2="380.20" y2="654.10" stroke="#000" stroke-width="2.8" stroke-linecap="butt"/>
<line x1="54.00" y1="632.82" x2="59.70" y2="632.82" stroke="#000" stroke-width="2.5" stroke-linecap="butt"/>
<line x1="54.00" y1="611.54" x2="59.70" y2="611.54" stroke="#000" stroke-width="2.5" stroke-linecap="butt"/>
<line x1="54.00" y1="590.26" x2="59.70" y2="590.26" stroke="#000" stroke-width="2.5" stroke-linecap="butt"/>
<line x1="54.00" y1="568.98" x2="59.70" y2="568.98" stroke="#000" stroke-width="2.5" stroke-linecap="butt"/>
<line x1="54.00" y1="547.70" x2="59.70" y2="547.70" stroke="#000" stroke-width="2.5" stroke-linecap="butt"/>
<line x1="54.00" y1="526.42" x2="59.70" y2="526.42" stroke="#000" stroke-width="2.5" stroke-linecap="butt"/>
<line x1="54.00" y1="505.14" x2="59.70" y2="505.14" stroke="#000" stroke-width="2.5" stroke-linecap="butt"/>
<line x1="54.00" y1="483.86" x2="59.70" y2="483.86" stroke="#000" stroke-width="2.5" stroke-linecap="butt"/>
<line x1="54.00" y1="462.58" x2="59.70" y2="462.58" stroke="#000" stroke-width="2.5" stroke-linecap="butt"/>
<line x1="54.00" y1="441.30" x2="59.70" y2="441.30" stroke="#000" stroke-width="2.5" stroke-linecap="butt"/>
<text x="51.00" y="659.60" font-family="Liberation Sans" font-size="15.6" font-weight="bold" text-anchor="end" >0</text>
<text x="51.00" y="638.32" font-family="Liberation Sans" font-size="15.6" font-weight="bold" text-anchor="end" >2</text>
<text x="51.00" y="617.04" font-family="Liberation Sans" font-size="15.6" font-weight="bold" text-anchor="end" >4</text>
<text x="51.00" y="595.76" font-family="Liberation Sans" font-size="15.6" font-weight="bold" text-anchor="end" >6</text>
<text x="51.00" y="574.48" font-family="Liberation Sans" font-size="15.6" font-weight="bold" text-anchor="end" >8</text>
<text x="51.00" y="553.20" font-family="Liberation Sans" font-size="15.6" font-weight="bold" text-anchor="end" >10</text>
<text x="51.00" y="531.92" font-family="Liberation Sans" font-size="15.6" font-weight="bold" text-anchor="end" >12</text>
<text x="51.00" y="510.64" font-family="Liberation Sans" font-size="15.6" font-weight="bold" text-anchor="end" >14</text>
<text x="51.00" y="489.36" font-family="Liberation Sans" font-size="15.6" font-weight="bold" text-anchor="end" >16</text>
<text x="51.00" y="468.08" font-family="Liberation Sans" font-size="15.6" font-weight="bold" text-anchor="end" >18</text>
<text x="51.00" y="446.80" font-family="Liberation Sans" font-size="15.6" font-weight="bold" text-anchor="end" >20</text>
<text id="m_Cy" transform="translate(17.00,657.45) rotate(-90)" font-family="Liberation Sans" font-size="17.0" font-weight="normal" textLength="237.96" lengthAdjust="spacingAndGlyphs">Hair cell density (cells/900<tspan font-family="Liberation Serif">μ</tspan>m<tspan font-size="11.5" dy="-7">2</tspan><tspan dy="7">)</tspan></text>
<line x1="82.50" y1="470.00" x2="82.50" y2="476.56" stroke="#000" stroke-width="2.5" stroke-linecap="butt"/>
<line x1="75.30" y1="470.00" x2="89.70" y2="470.00" stroke="#000" stroke-width="2.5" stroke-linecap="butt"/>
<rect x="66.20" y="475.56" width="32.6" height="178.54" rx="2.2" fill="#000"/>
<line x1="128.05" y1="468.80" x2="128.05" y2="476.24" stroke="#000" stroke-width="2.5" stroke-linecap="butt"/>
<line x1="120.85" y1="468.80" x2="135.25" y2="468.80" stroke="#000" stroke-width="2.5" stroke-linecap="butt"/>
<rect x="111.75" y="475.24" width="32.6" height="178.86" rx="2.2" fill="#000"/>
<line x1="173.60" y1="463.90" x2="173.60" y2="468.05" stroke="#000" stroke-width="2.5" stroke-linecap="butt"/>
<line x1="166.40" y1="463.90" x2="180.80" y2="463.90" stroke="#000" stroke-width="2.5" stroke-linecap="butt"/>
<rect x="157.30" y="467.05" width="32.6" height="187.05" rx="2.2" fill="#000"/>
<line x1="219.15" y1="534.30" x2="219.15" y2="541.25" stroke="#000" stroke-width="2.5" stroke-linecap="butt"/>
<line x1="211.95" y1="534.30" x2="226.35" y2="534.30" stroke="#000" stroke-width="2.5" stroke-linecap="butt"/>
<rect x="202.85" y="540.25" width="32.6" height="113.85" rx="2.2" fill="#000"/>
<line x1="264.70" y1="488.00" x2="264.70" y2="494.97" stroke="#000" stroke-width="2.5" stroke-linecap="butt"/>
<line x1="257.50" y1="488.00" x2="271.90" y2="488.00" stroke="#000" stroke-width="2.5" stroke-linecap="butt"/>
<rect x="248.40" y="493.97" width="32.6" height="160.13" rx="2.2" fill="#000"/>
<line x1="310.25" y1="565.80" x2="310.25" y2="579.56" stroke="#000" stroke-width="2.5" stroke-linecap="butt"/>
<line x1="303.05" y1="565.80" x2="317.45" y2="565.80" stroke="#000" stroke-width="2.5" stroke-linecap="butt"/>
<rect x="293.95" y="578.56" width="32.6" height="75.54" rx="2.2" fill="#000"/>
<line x1="355.80" y1="534.00" x2="355.80" y2="546.78" stroke="#000" stroke-width="2.5" stroke-linecap="butt"/>
<line x1="348.60" y1="534.00" x2="363.00" y2="534.00" stroke="#000" stroke-width="2.5" stroke-linecap="butt"/>
<rect x="339.50" y="545.78" width="32.6" height="108.32" rx="2.2" fill="#000"/>
<rect x="210" y="500" width="17" height="17" rx="4" fill="#f6f6f6"/>
<rect x="299" y="528" width="16" height="21" rx="4" fill="#f6f6f6"/>
<rect x="346" y="498.6" width="16" height="16" rx="4" fill="#f6f6f6"/>
<line x1="82.20" y1="457.30" x2="218.70" y2="457.30" stroke="#000" stroke-width="2.7" stroke-linecap="butt"/>
<line x1="219.40" y1="465.50" x2="264.80" y2="465.50" stroke="#000" stroke-width="2.8" stroke-linecap="butt"/>
<line x1="264.10" y1="477.00" x2="355.50" y2="477.00" stroke="#000" stroke-width="2.8" stroke-linecap="butt"/>
<text x="138.50" y="456.00" font-family="Liberation Sans" font-size="26" font-weight="bold" text-anchor="middle" >*</text>
<text x="240.70" y="467.70" font-family="Liberation Sans" font-size="26" font-weight="bold" text-anchor="middle" >*</text>
<text x="310.20" y="478.80" font-family="Liberation Sans" font-size="26" font-weight="bold" text-anchor="middle" >*</text>
<text id="m_Zn" x="13.30" y="681.30" font-family="Liberation Sans" font-size="16" font-weight="normal" textLength="50.98" lengthAdjust="spacingAndGlyphs">ZnPPIX</text>
<text id="m_Co" x="10.50" y="699.70" font-family="Liberation Sans" font-size="16" font-weight="normal" textLength="54.08" lengthAdjust="spacingAndGlyphs">CoPPIX</text>
<text id="m_Cis" x="7.80" y="718.00" font-family="Liberation Sans" font-size="16" font-weight="normal" textLength="59.68" lengthAdjust="spacingAndGlyphs">Cisplatin</text>
<line x1="78.40" y1="675.50" x2="86.40" y2="675.50" stroke="#000" stroke-width="2.3" stroke-linecap="butt"/>
<line x1="122.75" y1="675.50" x2="132.75" y2="675.50" stroke="#000" stroke-width="1.8" stroke-linecap="butt"/>
<line x1="127.75" y1="670.50" x2="127.75" y2="680.50" stroke="#000" stroke-width="1.8" stroke-linecap="butt"/>
<line x1="168.30" y1="675.50" x2="178.30" y2="675.50" stroke="#000" stroke-width="1.8" stroke-linecap="butt"/>
<line x1="173.30" y1="670.50" x2="173.30" y2="680.50" stroke="#000" stroke-width="1.8" stroke-linecap="butt"/>
<line x1="215.05" y1="675.50" x2="223.05" y2="675.50" stroke="#000" stroke-width="2.3" stroke-linecap="butt"/>
<line x1="260.60" y1="675.50" x2="268.60" y2="675.50" stroke="#000" stroke-width="2.3" stroke-linecap="butt"/>
<line x1="304.95" y1="675.50" x2="314.95" y2="675.50" stroke="#000" stroke-width="1.8" stroke-linecap="butt"/>
<line x1="309.95" y1="670.50" x2="309.95" y2="680.50" stroke="#000" stroke-width="1.8" stroke-linecap="butt"/>
<line x1="350.50" y1="675.50" x2="360.50" y2="675.50" stroke="#000" stroke-width="1.8" stroke-linecap="butt"/>
<line x1="355.50" y1="670.50" x2="355.50" y2="680.50" stroke="#000" stroke-width="1.8" stroke-linecap="butt"/>
<line x1="78.40" y1="695.00" x2="86.40" y2="695.00" stroke="#000" stroke-width="2.3" stroke-linecap="butt"/>
<line x1="123.95" y1="695.00" x2="131.95" y2="695.00" stroke="#000" stroke-width="2.3" stroke-linecap="butt"/>
<line x1="168.30" y1="695.00" x2="178.30" y2="695.00" stroke="#000" stroke-width="1.8" stroke-linecap="butt"/>
<line x1="173.30" y1="690.00" x2="173.30" y2="700.00" stroke="#000" stroke-width="1.8" stroke-linecap="butt"/>
<line x1="215.05" y1="695.00" x2="223.05" y2="695.00" stroke="#000" stroke-width="2.3" stroke-linecap="butt"/>
<line x1="259.40" y1="695.00" x2="269.40" y2="695.00" stroke="#000" stroke-width="1.8" stroke-linecap="butt"/>
<line x1="264.40" y1="690.00" x2="264.40" y2="700.00" stroke="#000" stroke-width="1.8" stroke-linecap="butt"/>
<line x1="306.15" y1="695.00" x2="314.15" y2="695.00" stroke="#000" stroke-width="2.3" stroke-linecap="butt"/>
<line x1="350.50" y1="695.00" x2="360.50" y2="695.00" stroke="#000" stroke-width="1.8" stroke-linecap="butt"/>
<line x1="355.50" y1="690.00" x2="355.50" y2="700.00" stroke="#000" stroke-width="1.8" stroke-linecap="butt"/>
<line x1="78.40" y1="714.90" x2="86.40" y2="714.90" stroke="#000" stroke-width="2.3" stroke-linecap="butt"/>
<line x1="123.95" y1="714.90" x2="131.95" y2="714.90" stroke="#000" stroke-width="2.3" stroke-linecap="butt"/>
<line x1="169.50" y1="714.90" x2="177.50" y2="714.90" stroke="#000" stroke-width="2.3" stroke-linecap="butt"/>
<line x1="213.85" y1="714.90" x2="223.85" y2="714.90" stroke="#000" stroke-width="1.8" stroke-linecap="butt"/>
<line x1="218.85" y1="709.90" x2="218.85" y2="719.90" stroke="#000" stroke-width="1.8" stroke-linecap="butt"/>
<line x1="259.40" y1="714.90" x2="269.40" y2="714.90" stroke="#000" stroke-width="1.8" stroke-linecap="butt"/>
<line x1="264.40" y1="709.90" x2="264.40" y2="719.90" stroke="#000" stroke-width="1.8" stroke-linecap="butt"/>
<line x1="304.95" y1="714.90" x2="314.95" y2="714.90" stroke="#000" stroke-width="1.8" stroke-linecap="butt"/>
<line x1="309.95" y1="709.90" x2="309.95" y2="719.90" stroke="#000" stroke-width="1.8" stroke-linecap="butt"/>
<line x1="350.50" y1="714.90" x2="360.50" y2="714.90" stroke="#000" stroke-width="1.8" stroke-linecap="butt"/>
<line x1="355.50" y1="709.90" x2="355.50" y2="719.90" stroke="#000" stroke-width="1.8" stroke-linecap="butt"/>
<text id="m_D" x="417.12" y="408.70" font-family="Liberation Sans" font-size="23.5" font-weight="bold" textLength="15.48" lengthAdjust="spacingAndGlyphs">D</text>
<line x1="474.50" y1="434.20" x2="474.50" y2="655.70" stroke="#000" stroke-width="2.8" stroke-linecap="butt"/>
<line x1="469.10" y1="654.30" x2="767.00" y2="654.30" stroke="#000" stroke-width="2.9" stroke-linecap="butt"/>
<line x1="469.10" y1="655.10" x2="474.50" y2="655.10" stroke="#000" stroke-width="2.5" stroke-linecap="butt"/>
<text x="465.60" y="660.00" font-family="Liberation Sans" font-size="15.5" font-weight="bold" text-anchor="end" >6</text>
<line x1="469.10" y1="623.70" x2="474.50" y2="623.70" stroke="#000" stroke-width="2.5" stroke-linecap="butt"/>
<text x="465.60" y="628.60" font-family="Liberation Sans" font-size="15.5" font-weight="bold" text-anchor="end" >8</text>
<line x1="469.10" y1="592.30" x2="474.50" y2="592.30" stroke="#000" stroke-width="2.5" stroke-linecap="butt"/>
<text x="465.60" y="597.20" font-family="Liberation Sans" font-size="15.5" font-weight="bold" text-anchor="end" >10</text>
<line x1="469.10" y1="560.90" x2="474.50" y2="560.90" stroke="#000" stroke-width="2.5" stroke-linecap="butt"/>
<text x="465.60" y="565.80" font-family="Liberation Sans" font-size="15.5" font-weight="bold" text-anchor="end" >12</text>
<line x1="469.10" y1="529.50" x2="474.50" y2="529.50" stroke="#000" stroke-width="2.5" stroke-linecap="butt"/>
<text x="465.60" y="534.40" font-family="Liberation Sans" font-size="15.5" font-weight="bold" text-anchor="end" >14</text>
<line x1="469.10" y1="498.10" x2="474.50" y2="498.10" stroke="#000" stroke-width="2.5" stroke-linecap="butt"/>
<text x="465.60" y="503.00" font-family="Liberation Sans" font-size="15.5" font-weight="bold" text-anchor="end" >16</text>
<line x1="469.10" y1="466.70" x2="474.50" y2="466.70" stroke="#000" stroke-width="2.5" stroke-linecap="butt"/>
<text x="465.60" y="471.60" font-family="Liberation Sans" font-size="15.5" font-weight="bold" text-anchor="end" >18</text>
<line x1="469.10" y1="435.30" x2="474.50" y2="435.30" stroke="#000" stroke-width="2.5" stroke-linecap="butt"/>
<text x="465.60" y="440.20" font-family="Liberation Sans" font-size="15.5" font-weight="bold" text-anchor="end" >20</text>
<line x1="480.30" y1="654.30" x2="480.30" y2="660.60" stroke="#000" stroke-width="2.6" stroke-linecap="butt"/>
<text x="480.30" y="678.30" font-family="Liberation Sans" font-size="15.5" font-weight="bold" text-anchor="middle" >0</text>
<line x1="534.00" y1="654.30" x2="534.00" y2="660.60" stroke="#000" stroke-width="2.6" stroke-linecap="butt"/>
<text x="534.00" y="678.30" font-family="Liberation Sans" font-size="15.5" font-weight="bold" text-anchor="middle" >10</text>
<line x1="587.70" y1="654.30" x2="587.70" y2="660.60" stroke="#000" stroke-width="2.6" stroke-linecap="butt"/>
<text x="587.70" y="678.30" font-family="Liberation Sans" font-size="15.5" font-weight="bold" text-anchor="middle" >20</text>
<line x1="641.40" y1="654.30" x2="641.40" y2="660.60" stroke="#000" stroke-width="2.6" stroke-linecap="butt"/>
<text x="641.40" y="678.30" font-family="Liberation Sans" font-size="15.5" font-weight="bold" text-anchor="middle" >30</text>
<line x1="695.10" y1="654.30" x2="695.10" y2="660.60" stroke="#000" stroke-width="2.6" stroke-linecap="butt"/>
<text x="695.10" y="678.30" font-family="Liberation Sans" font-size="15.5" font-weight="bold" text-anchor="middle" >40</text>
<line x1="748.80" y1="654.30" x2="748.80" y2="660.60" stroke="#000" stroke-width="2.6" stroke-linecap="butt"/>
<text x="748.80" y="678.30" font-family="Liberation Sans" font-size="15.5" font-weight="bold" text-anchor="middle" >50</text>
<text id="m_Dx" x="500.07" y="706.60" font-family="Liberation Sans" font-size="18.5" font-weight="normal" textLength="248.78" lengthAdjust="spacingAndGlyphs">Cisplatin concentration (<tspan font-family="Liberation Serif">μ</tspan>g/mL)</text>
<text id="m_Dy" transform="translate(431.00,670.62) rotate(-90)" font-family="Liberation Sans" font-size="18.3" font-weight="normal" textLength="252.06" lengthAdjust="spacingAndGlyphs">Hair Cell Density (cells/900<tspan font-family="Liberation Serif">μ</tspan>m<tspan font-size="12" dy="-7.5">2</tspan><tspan dy="7.5">)</tspan></text>
<polyline fill="none" stroke="#000" stroke-width="2" points="480.3,441.6 614.5,561.8 748.8,588.4"/>
<line x1="480.30" y1="436.87" x2="480.30" y2="446.29" stroke="#000" stroke-width="2.2" stroke-linecap="butt"/>
<line x1="474.05" y1="436.87" x2="486.55" y2="436.87" stroke="#000" stroke-width="2.2" stroke-linecap="butt"/>
<line x1="474.05" y1="446.29" x2="486.55" y2="446.29" stroke="#000" stroke-width="2.2" stroke-linecap="butt"/>
<line x1="614.55" y1="552.58" x2="614.55" y2="570.63" stroke="#000" stroke-width="2.2" stroke-linecap="butt"/>
<line x1="608.30" y1="552.58" x2="620.80" y2="552.58" stroke="#000" stroke-width="2.2" stroke-linecap="butt"/>
<line x1="608.30" y1="570.63" x2="620.80" y2="570.63" stroke="#000" stroke-width="2.2" stroke-linecap="butt"/>
<line x1="748.80" y1="573.46" x2="748.80" y2="603.45" stroke="#000" stroke-width="2.2" stroke-linecap="butt"/>
<line x1="742.55" y1="573.46" x2="755.05" y2="573.46" stroke="#000" stroke-width="2.2" stroke-linecap="butt"/>
<line x1="742.55" y1="603.45" x2="755.05" y2="603.45" stroke="#000" stroke-width="2.2" stroke-linecap="butt"/>
<circle cx="480.3" cy="441.6" r="6.1" fill="#fff" stroke="#000" stroke-width="2.1"/>
<circle cx="614.5" cy="561.8" r="6.1" fill="#fff" stroke="#000" stroke-width="2.1"/>
<circle cx="748.8" cy="588.4" r="6.1" fill="#fff" stroke="#000" stroke-width="2.1"/>
<polyline fill="none" stroke="#000" stroke-width="2" points="480.3,463.6 614.5,504.5 748.8,552.3"/>
<line x1="480.30" y1="458.85" x2="480.30" y2="468.27" stroke="#000" stroke-width="2.2" stroke-linecap="butt"/>
<line x1="474.05" y1="458.85" x2="486.55" y2="458.85" stroke="#000" stroke-width="2.2" stroke-linecap="butt"/>
<line x1="474.05" y1="468.27" x2="486.55" y2="468.27" stroke="#000" stroke-width="2.2" stroke-linecap="butt"/>
<line x1="614.55" y1="490.25" x2="614.55" y2="518.82" stroke="#000" stroke-width="2.2" stroke-linecap="butt"/>
<line x1="608.30" y1="490.25" x2="620.80" y2="490.25" stroke="#000" stroke-width="2.2" stroke-linecap="butt"/>
<line x1="608.30" y1="518.82" x2="620.80" y2="518.82" stroke="#000" stroke-width="2.2" stroke-linecap="butt"/>
<line x1="748.80" y1="543.63" x2="748.80" y2="560.90" stroke="#000" stroke-width="2.2" stroke-linecap="butt"/>
<line x1="742.55" y1="543.63" x2="755.05" y2="543.63" stroke="#000" stroke-width="2.2" stroke-linecap="butt"/>
<line x1="742.55" y1="560.90" x2="755.05" y2="560.90" stroke="#000" stroke-width="2.2" stroke-linecap="butt"/>
<circle cx="480.3" cy="463.6" r="6.9" fill="#000"/>
<circle cx="614.5" cy="504.5" r="6.9" fill="#000"/>
<circle cx="748.8" cy="552.3" r="6.9" fill="#000"/>
<polyline fill="none" stroke="#000" stroke-width="2" points="480.3,450.2 614.5,476.4 748.8,571.1"/>
<line x1="480.30" y1="446.29" x2="480.30" y2="454.14" stroke="#000" stroke-width="2.2" stroke-linecap="butt"/>
<line x1="474.05" y1="446.29" x2="486.55" y2="446.29" stroke="#000" stroke-width="2.2" stroke-linecap="butt"/>
<line x1="474.05" y1="454.14" x2="486.55" y2="454.14" stroke="#000" stroke-width="2.2" stroke-linecap="butt"/>
<line x1="614.55" y1="455.71" x2="614.55" y2="493.39" stroke="#000" stroke-width="2.2" stroke-linecap="butt"/>
<line x1="608.30" y1="455.71" x2="620.80" y2="455.71" stroke="#000" stroke-width="2.2" stroke-linecap="butt"/>
<line x1="608.30" y1="493.39" x2="620.80" y2="493.39" stroke="#000" stroke-width="2.2" stroke-linecap="butt"/>
<line x1="748.80" y1="556.19" x2="748.80" y2="582.88" stroke="#000" stroke-width="2.2" stroke-linecap="butt"/>
<line x1="742.55" y1="556.19" x2="755.05" y2="556.19" stroke="#000" stroke-width="2.2" stroke-linecap="butt"/>
<line x1="742.55" y1="582.88" x2="755.05" y2="582.88" stroke="#000" stroke-width="2.2" stroke-linecap="butt"/>
<rect x="474.0" y="443.9" width="12.6" height="12.6" fill="#fff" stroke="#000" stroke-width="2.1"/>
<rect x="608.2" y="470.1" width="12.6" height="12.6" fill="#fff" stroke="#000" stroke-width="2.1"/>
<rect x="742.5" y="564.8" width="12.6" height="12.6" fill="#fff" stroke="#000" stroke-width="2.1"/>
<polyline fill="none" stroke="#000" stroke-width="2" points="480.3,470.6 614.5,489.8 748.8,539.4"/>
<line x1="480.30" y1="466.70" x2="480.30" y2="474.55" stroke="#000" stroke-width="2.2" stroke-linecap="butt"/>
<line x1="474.05" y1="466.70" x2="486.55" y2="466.70" stroke="#000" stroke-width="2.2" stroke-linecap="butt"/>
<line x1="474.05" y1="474.55" x2="486.55" y2="474.55" stroke="#000" stroke-width="2.2" stroke-linecap="butt"/>
<line x1="614.55" y1="474.24" x2="614.55" y2="505.32" stroke="#000" stroke-width="2.2" stroke-linecap="butt"/>
<line x1="608.30" y1="474.24" x2="620.80" y2="474.24" stroke="#000" stroke-width="2.2" stroke-linecap="butt"/>
<line x1="608.30" y1="505.32" x2="620.80" y2="505.32" stroke="#000" stroke-width="2.2" stroke-linecap="butt"/>
<line x1="748.80" y1="526.52" x2="748.80" y2="551.48" stroke="#000" stroke-width="2.2" stroke-linecap="butt"/>
<line x1="742.55" y1="526.52" x2="755.05" y2="526.52" stroke="#000" stroke-width="2.2" stroke-linecap="butt"/>
<line x1="742.55" y1="551.48" x2="755.05" y2="551.48" stroke="#000" stroke-width="2.2" stroke-linecap="butt"/>
<rect x="473.5" y="463.8" width="13.6" height="13.6" fill="#000"/>
<rect x="607.8" y="483.0" width="13.6" height="13.6" fill="#000"/>
<rect x="742.0" y="532.6" width="13.6" height="13.6" fill="#000"/>
<g><g transform="translate(614.00,437.70) rotate(-90)"><line x1="0" y1="0" x2="3.25" y2="0" stroke="#000" stroke-width="0.91"/><ellipse cx="4.29" cy="0" rx="2.21" ry="1.10" fill="#000"/></g><g transform="translate(614.00,437.70) rotate(-150)"><line x1="0" y1="0" x2="3.25" y2="0" stroke="#000" stroke-width="0.91"/><ellipse cx="4.29" cy="0" rx="2.21" ry="1.10" fill="#000"/></g><g transform="translate(614.00,437.70) rotate(-210)"><line x1="0" y1="0" x2="3.25" y2="0" stroke="#000" stroke-width="0.91"/><ellipse cx="4.29" cy="0" rx="2.21" ry="1.10" fill="#000"/></g><g transform="translate(614.00,437.70) rotate(-270)"><line x1="0" y1="0" x2="3.25" y2="0" stroke="#000" stroke-width="0.91"/><ellipse cx="4.29" cy="0" rx="2.21" ry="1.10" fill="#000"/></g><g transform="translate(614.00,437.70) rotate(-330)"><line x1="0" y1="0" x2="3.25" y2="0" stroke="#000" stroke-width="0.91"/><ellipse cx="4.29" cy="0" rx="2.21" ry="1.10" fill="#000"/></g><g transform="translate(614.00,437.70) rotate(-390)"><line x1="0" y1="0" x2="3.25" y2="0" stroke="#000" stroke-width="0.91"/><ellipse cx="4.29" cy="0" rx="2.21" ry="1.10" fill="#000"/></g></g>
<line x1="626.60" y1="430.20" x2="623.20" y2="443.80" stroke="#000" stroke-width="1.45" stroke-linecap="butt"/>
<line x1="631.30" y1="430.20" x2="627.80" y2="443.80" stroke="#000" stroke-width="1.45" stroke-linecap="butt"/>
<line x1="621.90" y1="434.40" x2="631.90" y2="434.40" stroke="#000" stroke-width="1.7" stroke-linecap="butt"/>
<line x1="621.60" y1="439.00" x2="631.30" y2="439.00" stroke="#000" stroke-width="1.7" stroke-linecap="butt"/>
<line x1="480.50" y1="577.00" x2="503.80" y2="577.00" stroke="#000" stroke-width="2" stroke-linecap="butt"/>
<circle cx="491.9" cy="577.0" r="6.1" fill="#fff" stroke="#000" stroke-width="2.1"/>
<text id="m_Dl0" x="517.00" y="582.30" font-family="Liberation Sans" font-size="16" font-weight="normal" textLength="74.38" lengthAdjust="spacingAndGlyphs">HSP70 WT</text>
<line x1="480.50" y1="596.40" x2="503.80" y2="596.40" stroke="#000" stroke-width="2" stroke-linecap="butt"/>
<circle cx="491.9" cy="596.4" r="6.9" fill="#000"/>
<text id="m_Dl1" x="517.00" y="601.60" font-family="Liberation Sans" font-size="16" font-weight="normal" textLength="79.88" lengthAdjust="spacingAndGlyphs">rHSP70i CE</text>
<line x1="480.50" y1="616.30" x2="503.80" y2="616.30" stroke="#000" stroke-width="2" stroke-linecap="butt"/>
<rect x="485.6" y="610.0" width="12.6" height="12.6" fill="#fff" stroke="#000" stroke-width="2.1"/>
<text id="m_Dl2" x="518.10" y="621.50" font-family="Liberation Sans" font-size="16" font-weight="normal" textLength="143.78" lengthAdjust="spacingAndGlyphs">HSP70 WT + CoPPIX</text>
<line x1="480.50" y1="636.50" x2="503.80" y2="636.50" stroke="#000" stroke-width="2" stroke-linecap="butt"/>
<rect x="485.1" y="629.7" width="13.6" height="13.6" fill="#000"/>
<text id="m_Dl3" x="517.80" y="641.40" font-family="Liberation Sans" font-size="16" font-weight="normal" textLength="148.88" lengthAdjust="spacingAndGlyphs">rHSP70i CE + CoPPIX</text>
</svg>
</body></html>
